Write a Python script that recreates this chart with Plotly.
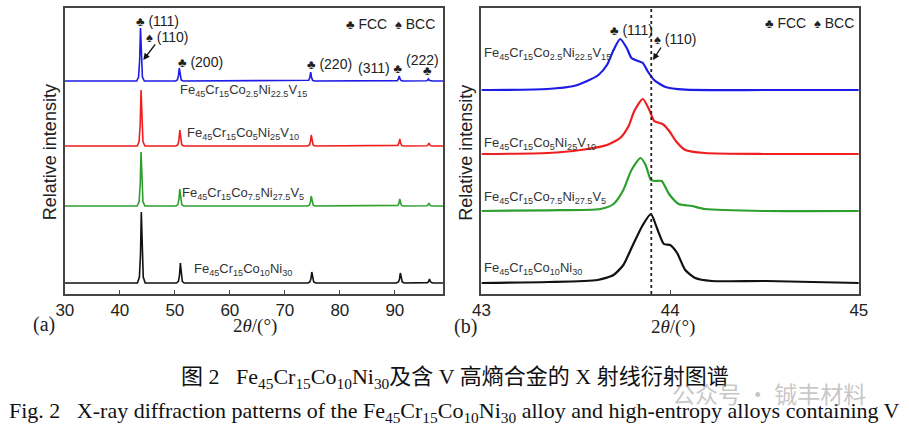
import plotly.graph_objects as go

# ---------------- data ----------------
alloy_labels = [
    "Fe<sub>45</sub>Cr<sub>15</sub>Co<sub>2.5</sub>Ni<sub>22.5</sub>V<sub>15</sub>",
    "Fe<sub>45</sub>Cr<sub>15</sub>Co<sub>5</sub>Ni<sub>25</sub>V<sub>10</sub>",
    "Fe<sub>45</sub>Cr<sub>15</sub>Co<sub>7.5</sub>Ni<sub>27.5</sub>V<sub>5</sub>",
    "Fe<sub>45</sub>Cr<sub>15</sub>Co<sub>10</sub>Ni<sub>30</sub>",
]
# vertical stacking offsets (relative intensity units)
offsets_a = [213, 148, 88, 11]
offsets_b = [204, 140, 83, 11]

# (a) full patterns, 2theta (deg) and intensity above baseline
blue_a_x = [30, 43.05, 43.4, 43.6, 43.75, 43.9, 44.1, 44.45,
            50.1, 50.45, 50.65, 50.8, 50.95, 51.15, 51.5,
            74.0, 74.35, 74.55, 74.7, 74.85, 75.05, 75.4,
            90.1, 90.45, 90.65, 90.8, 90.95, 91.15, 91.5,
            95.4, 95.75, 95.95, 96.1, 96.25, 96.45, 96.8, 98.8]
blue_a_y = [0, 0, 4, 21, 53, 21, 4, 0,
            0, 1, 5, 13, 5, 1, 0,
            0, 0.7, 3.6, 9, 3.6, 0.7, 0,
            0, 0.4, 2, 5, 2, 0.4, 0,
            0, 0.2, 0.8, 2, 0.8, 0.2, 0, 0]

red_a_x = [30, 43.15, 43.5, 43.7, 43.85, 44.0, 44.2, 44.55,
           50.2, 50.55, 50.75, 50.9, 51.05, 51.25, 51.6,
           74.1, 74.45, 74.65, 74.8, 74.95, 75.15, 75.5,
           90.2, 90.55, 90.75, 90.9, 91.05, 91.25, 91.6,
           95.5, 95.85, 96.05, 96.2, 96.35, 96.55, 96.9, 98.8]
red_a_y = [0, 0, 4.5, 22, 56, 22, 4.5, 0,
           0, 1.3, 6.4, 16, 6.4, 1.3, 0,
           0, 0.9, 4.4, 11, 4.4, 0.9, 0,
           0, 0.6, 2.8, 7, 2.8, 0.6, 0,
           0, 0.2, 1.2, 3, 1.2, 0.2, 0, 0]

green_a_x = [30, 43.15, 43.5, 43.7, 43.85, 44.0, 44.2, 44.55,
             50.2, 50.55, 50.75, 50.9, 51.05, 51.25, 51.6,
             74.1, 74.45, 74.65, 74.8, 74.95, 75.15, 75.5,
             90.2, 90.55, 90.75, 90.9, 91.05, 91.25, 91.6,
             95.5, 95.85, 96.05, 96.2, 96.35, 96.55, 96.9, 98.8]
green_a_y = [0, 0, 4.3, 22, 54, 22, 4.3, 0,
             0, 1.4, 7, 17, 7, 1.4, 0,
             0, 0.8, 4, 10, 4, 0.8, 0,
             0, 0.6, 2.8, 7, 2.8, 0.6, 0,
             0, 0.2, 1.2, 3, 1.2, 0.2, 0, 0]

black_a_x = [30, 43.2, 43.55, 43.75, 43.9, 44.05, 44.25, 44.6,
             50.3, 50.65, 50.85, 51.0, 51.15, 51.35, 51.7,
             74.2, 74.55, 74.75, 74.9, 75.05, 75.25, 75.6,
             90.3, 90.65, 90.85, 91.0, 91.15, 91.35, 91.7,
             95.6, 95.95, 96.15, 96.3, 96.45, 96.65, 97.0, 98.8]
black_a_y = [0, 0, 6, 28, 71, 28, 6, 0,
             0, 1.6, 8, 20, 8, 1.6, 0,
             0, 1, 4.4, 11, 4.4, 1, 0,
             0, 1, 4, 10, 4, 1, 0,
             0, 0.4, 1.6, 4, 1.6, 0.4, 0, 0]

# (b) zoom on the (111)/(110) region
blue_b_x = [43.0, 43.35, 43.49, 43.56, 43.62, 43.665, 43.70, 43.735, 43.77, 43.795,
            43.83, 43.855, 43.88, 43.915, 43.975, 44.08, 44.5, 45.0]
blue_b_y = [0, 1, 4, 9, 15, 25, 40, 51, 42, 32, 29, 27, 19, 10, 3, 0.3, 0, 0]

red_b_x = [43.0, 43.35, 43.525, 43.665, 43.735, 43.78, 43.81, 43.855, 43.89, 43.915,
           43.96, 43.995, 44.03, 44.08, 44.185, 44.5, 45.0]
red_b_y = [0, 1, 4, 9, 16, 28, 43, 55, 44, 33, 30, 23, 13, 4, 1, 0, 0]

green_b_x = [43.0, 43.35, 43.63, 43.70, 43.752, 43.795, 43.843, 43.87, 43.898, 43.92,
             43.955, 43.994, 44.046, 44.115, 44.185, 44.5, 45.0]
green_b_y = [0, 0.7, 2, 7, 21, 41, 53, 46, 31, 30, 30, 17, 7, 5, 2, 0, 0]

black_b_x = [43.0, 43.35, 43.615, 43.70, 43.752, 43.80, 43.855, 43.898, 43.93, 43.967,
             44.0, 44.037, 44.08, 44.133, 44.22, 44.51, 45.0]
black_b_y = [0, 1, 3, 8, 18, 37, 58, 69, 55, 39, 38, 30, 13, 5, 2, 2, 0]

ref_line_2theta = 43.9

xticks_a = [30, 40, 50, 60, 70, 80, 90]
xticks_b = [43, 44, 45]

# ---------------- styles ----------------
colors = ["#1c1ce6", "#f01e1e", "#2e9e2e", "#111111"]
W, H = 909, 430
SANS = "Liberation Sans, Arial, sans-serif"
SERIF = "Liberation Serif, Times New Roman, serif"
CJK = "Liberation Serif, Noto Sans CJK SC, serif"

fig = go.Figure()

series_a = [(blue_a_x, blue_a_y), (red_a_x, red_a_y), (green_a_x, green_a_y), (black_a_x, black_a_y)]
series_b = [(blue_b_x, blue_b_y), (red_b_x, red_b_y), (green_b_x, green_b_y), (black_b_x, black_b_y)]

for (xs, ys), off, c in zip(series_a, offsets_a, colors):
    fig.add_trace(go.Scatter(x=xs, y=[v + off for v in ys], mode="lines",
                             line=dict(color=c, width=1.6), xaxis="x", yaxis="y",
                             showlegend=False, hoverinfo="skip"))
for (xs, ys), off, c in zip(series_b, offsets_b, colors):
    fig.add_trace(go.Scatter(x=xs, y=[v + off for v in ys], mode="lines",
                             line=dict(color=c, width=2.2, shape="spline", smoothing=0.6),
                             xaxis="x2", yaxis="y2", showlegend=False, hoverinfo="skip"))

fig.add_shape(type="line", xref="x2", yref="y2 domain", x0=ref_line_2theta, x1=ref_line_2theta,
              y0=0, y1=1, line=dict(color="#222", width=1.8, dash="dot"))

ydom = [1 - 294 / H, 1 - 8 / H]
axis_common = dict(showline=True, linecolor="#444", linewidth=1.5, mirror=True,
                   showgrid=False, zeroline=False)
fig.update_layout(
    width=W, height=H, margin=dict(l=0, r=0, t=0, b=0),
    paper_bgcolor="white", plot_bgcolor="white",
    xaxis=dict(domain=[57 / W, 443 / W], range=[30, 98.8], tickvals=xticks_a,
               ticks="inside", ticklen=4, tickcolor="#444",
               tickfont=dict(family=SANS, size=17, color="#222"), anchor="y", **axis_common),
    yaxis=dict(domain=ydom, range=[0, 286], showticklabels=False, ticks="", anchor="x", **axis_common),
    xaxis2=dict(domain=[482 / W, 867 / W], range=[43, 45], tickvals=xticks_b,
                ticks="inside", ticklen=4, tickcolor="#444",
                tickfont=dict(family=SANS, size=17, color="#222"), anchor="y2", **axis_common),
    yaxis2=dict(domain=ydom, range=[0, 286], showticklabels=False, ticks="", anchor="x2", **axis_common),
)

ann = []
lab_font = dict(family=SANS, size=13, color="#333")
club = "<span style='font-size:13px'>♣</span>"
spade = "<span style='font-size:13px'>♠</span>"
pk_font = dict(family=SANS, size=14, color="#222")


def px(xp, yp):
    return xp / W, 1 - yp / H


# compound labels (a): centred
for lab, yp in zip(alloy_labels, [91, 133, 193, 269]):
    xr, yr = px(239, yp)
    ann.append(dict(x=xr, y=yr, xref="paper", yref="paper", text=lab, showarrow=False,
                    xanchor="center", yanchor="middle", font=lab_font))
# compound labels (b): left aligned
for lab, yp in zip(alloy_labels, [53, 143, 197, 268]):
    xr, yr = px(483, yp)
    ann.append(dict(x=xr, y=yr, xref="paper", yref="paper", text=lab, showarrow=False,
                    xanchor="left", yanchor="middle", font=lab_font))

# peak labels (a)
for txt, xv, yv in [(club + " (111)", 42.66, 273), (spade + " (110)", 44.3, 257),
                    (club + " (200)", 50.14, 232), (club + " (220)", 73.7, 230),
                    ("(311) " + club, 82.9, 226), ("(222)", 91.7, 234),
                    (club + " FCC  " + spade + " BCC", 80.8, 270)]:
    ann.append(dict(x=xv, y=yv, xref="x", yref="y", text=txt, showarrow=False,
                    xanchor="left", yanchor="middle", font=pk_font))
ann.append(dict(x=95.9, y=223, xref="x", yref="y", text=club, showarrow=False,
                xanchor="center", yanchor="middle", font=pk_font))
ann.append(dict(x=44.26, y=234, xref="x", yref="y", text="", showarrow=True,
                ax=13, ay=-17, arrowhead=2, arrowsize=1, arrowwidth=1.3, arrowcolor="#111"))

# peak labels (b)
for txt, xv, yv in [(club + " (111)", 43.67, 264), (spade + " (110)", 43.905, 255),
                    (club + " FCC  " + spade + " BCC", 44.49, 271)]:
    ann.append(dict(x=xv, y=yv, xref="x2", yref="y2", text=txt, showarrow=False,
                    xanchor="left", yanchor="middle", font=pk_font))
ann.append(dict(x=43.909, y=234, xref="x2", yref="y2", text="", showarrow=True,
                ax=9, ay=-14, arrowhead=2, arrowsize=1, arrowwidth=1.3, arrowcolor="#111"))

# axis titles and panel letters
for txt, (xp, yp), fnt, rot in [
    ("Relative intensity", (42, 152), dict(family=SANS, size=18, color="#222"), -90),
    ("Relative intensity", (466, 153), dict(family=SANS, size=18, color="#222"), -90),
    ("2<i>θ</i>/(°)", (251, 326), dict(family=SERIF, size=19, color="#222"), 0),
    ("2<i>θ</i>/(°)", (677, 327), dict(family=SERIF, size=19, color="#222"), 0),
    ("(a)", (36, 324), dict(family=SERIF, size=20, color="#222"), 0),
    ("(b)", (466, 326), dict(family=SERIF, size=20, color="#222"), 0),
]:
    xr, yr = px(xp, yp)
    ann.append(dict(x=xr, y=yr, xref="paper", yref="paper", text=txt, showarrow=False,
                    xanchor="center", yanchor="middle", textangle=rot, font=fnt))

# captions
cap_cn = ("图 2   Fe<sub>45</sub>Cr<sub>15</sub>Co<sub>10</sub>Ni<sub>30</sub>"
          "及含 V 高熵合金的 X 射线衍射图谱")
cap_en = ("Fig. 2   X-ray diffraction patterns of the Fe<sub>45</sub>Cr<sub>15</sub>"
          "Co<sub>10</sub>Ni<sub>30</sub> alloy and high-entropy alloys containing V")
xr, yr = px(455, 378)
ann.append(dict(x=xr, y=yr, xref="paper", yref="paper", text=cap_cn, showarrow=False,
                xanchor="center", yanchor="middle", font=dict(family=CJK, size=22, color="#111")))
xr, yr = px(455, 412)
ann.append(dict(x=xr, y=yr, xref="paper", yref="paper", text=cap_en, showarrow=False,
                xanchor="center", yanchor="middle", font=dict(family=SERIF, size=22, color="#111")))
xr, yr = px(775, 393)
ann.append(dict(x=xr, y=yr, xref="paper", yref="paper", text="公众号 · 铖丰材料", showarrow=False,
                xanchor="center", yanchor="middle",
                font=dict(family="Noto Sans CJK SC", size=23, color="rgba(150,150,150,0.55)")))

fig.update_layout(annotations=ann)
fig.write_html("out.html", config={"displayModeBar": False},
               post_script="document.body.style.margin='0';")
